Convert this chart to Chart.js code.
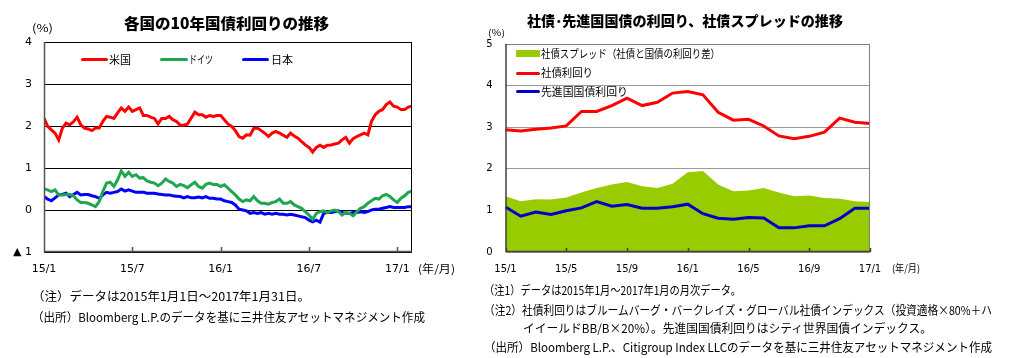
<!DOCTYPE html>
<html><head><meta charset="utf-8">
<script src="https://cdn.jsdelivr.net/npm/chart.js@4.4.0/dist/chart.umd.min.js"></script>
<style>
html,body{margin:0;padding:0;background:#fff;}
#wrap{position:relative;width:1023px;height:358px;overflow:hidden;font-family:"Noto Sans CJK JP","DejaVu Sans",sans-serif;color:#000;}
.t{position:absolute;white-space:nowrap;line-height:1;transform-origin:left center;}
.sw{position:absolute;}
canvas{position:absolute;left:0;top:0;}
</style></head><body>
<div id="wrap">
  <div style="position:absolute;left:0;top:0;width:460px;height:290px;"><canvas id="c1" width="460" height="290"></canvas></div>
  <div style="position:absolute;left:470px;top:0;width:553px;height:290px;"><canvas id="c2" width="553" height="290"></canvas></div>
</div>
<script>
// ---------- Left chart: 10-year government bond yields (step = 0.25 month from 2015/1) ----------
const leftStepMonths = 0.25;
const usYield = [2.19,1.99,1.91,1.83,1.67,1.95,2.07,2.03,2.10,2.21,
  2.03,1.95,1.93,1.89,1.95,1.95,2.11,2.23,2.21,2.18,
  2.31,2.43,2.35,2.45,2.35,2.39,2.43,2.25,2.25,2.21,
  2.18,2.05,2.18,2.18,2.23,2.15,2.11,2.02,2.02,2.05,
  2.19,2.33,2.27,2.27,2.21,2.25,2.23,2.25,2.25,2.15,
  2.05,1.99,1.89,1.75,1.71,1.79,1.78,1.94,1.95,1.89,
  1.83,1.75,1.83,1.87,1.83,1.78,1.73,1.83,1.76,1.71,
  1.63,1.55,1.49,1.38,1.49,1.54,1.49,1.54,1.55,1.57,
  1.59,1.67,1.73,1.59,1.70,1.75,1.79,1.83,1.79,2.11,
  2.27,2.35,2.39,2.51,2.57,2.47,2.45,2.39,2.39,2.45,
  2.47];
const deYield = [0.50,0.48,0.44,0.48,0.36,0.36,0.37,0.37,0.34,0.24,
  0.18,0.18,0.16,0.12,0.08,0.20,0.44,0.64,0.66,0.56,
  0.72,0.93,0.80,0.90,0.80,0.84,0.76,0.77,0.69,0.66,
  0.64,0.58,0.64,0.74,0.68,0.64,0.56,0.61,0.58,0.53,
  0.60,0.66,0.56,0.52,0.61,0.64,0.61,0.61,0.56,0.60,
  0.52,0.44,0.36,0.26,0.20,0.24,0.22,0.32,0.22,0.16,
  0.16,0.14,0.18,0.20,0.26,0.16,0.16,0.20,0.12,0.08,
  0.04,-0.04,-0.12,-0.22,-0.08,-0.04,-0.02,-0.06,-0.02,0.00,
  -0.04,-0.12,-0.06,-0.08,-0.14,-0.04,0.04,0.08,0.16,0.22,
  0.28,0.26,0.34,0.37,0.32,0.24,0.18,0.28,0.34,0.42,
  0.45];
const jpYield = [0.32,0.26,0.22,0.29,0.36,0.37,0.40,0.32,0.37,0.42,
  0.36,0.37,0.37,0.34,0.32,0.28,0.36,0.42,0.40,0.42,
  0.44,0.50,0.45,0.48,0.45,0.42,0.42,0.42,0.40,0.40,
  0.40,0.38,0.37,0.36,0.36,0.34,0.33,0.32,0.29,0.32,
  0.29,0.29,0.31,0.29,0.32,0.28,0.28,0.26,0.26,0.22,
  0.20,0.18,0.12,0.02,0.00,-0.02,-0.08,-0.06,-0.08,-0.06,
  -0.10,-0.08,-0.10,-0.08,-0.10,-0.10,-0.12,-0.10,-0.12,-0.14,
  -0.16,-0.18,-0.24,-0.28,-0.24,-0.29,-0.08,-0.06,-0.06,-0.04,
  -0.02,-0.06,-0.08,-0.08,-0.06,-0.06,-0.04,-0.06,-0.04,0.00,
  0.02,0.02,0.04,0.06,0.08,0.06,0.06,0.06,0.06,0.08,
  0.08];
const leftXTickValues = [0, 6, 12, 18, 24];
const leftXTickLabels = ['15/1', '15/7', '16/1', '16/7', '17/1'];
const leftYTickValues = [-1, 0, 1, 2, 3, 4];
const leftYTickLabels = ['▲ 1', '0', '1', '2', '3', '4'];

// ---------- Right chart: monthly corporate / government yields ----------
const months = ['15/1','15/2','15/3','15/4','15/5','15/6','15/7','15/8','15/9','15/10','15/11','15/12',
  '16/1','16/2','16/3','16/4','16/5','16/6','16/7','16/8','16/9','16/10','16/11','16/12','17/1'];
const corpSpread = [1.34,1.22,1.27,1.26,1.31,1.43,1.54,1.62,1.68,1.58,1.54,1.64,1.92,1.95,1.62,1.46,1.48,1.54,1.43,1.34,1.36,1.30,1.28,1.22,1.20];
const corpYield  = [2.94,2.91,2.95,2.98,3.03,3.38,3.38,3.52,3.70,3.52,3.60,3.82,3.86,3.78,3.36,3.17,3.19,3.03,2.79,2.72,2.78,2.88,3.22,3.12,3.09];
const govYield   = [1.08,0.86,0.96,0.90,0.99,1.06,1.21,1.10,1.14,1.05,1.05,1.09,1.15,0.92,0.81,0.79,0.83,0.82,0.58,0.58,0.63,0.63,0.80,1.05,1.05];

const toXY = arr => arr.map((v, i) => ({x: i * leftStepMonths, y: v}));

const framePlugin = {
  id: 'frame',
  afterDraw(chart, args, o) {
    const {ctx, chartArea: a} = chart;
    const xs = chart.scales.x;
    ctx.save();
    ctx.lineWidth = o.width;
    ctx.strokeStyle = o.top;
    ctx.beginPath();
    ctx.moveTo(a.left, a.top + 0.5); ctx.lineTo(a.right, a.top + 0.5);
    ctx.moveTo(a.right - 0.5, a.top); ctx.lineTo(a.right - 0.5, a.bottom);
    ctx.stroke();
    ctx.strokeStyle = o.axis;
    ctx.lineWidth = o.axisWidth;
    ctx.beginPath();
    ctx.moveTo(a.left + 0.5, a.top); ctx.lineTo(a.left + 0.5, a.bottom);
    ctx.moveTo(a.left, a.bottom - 0.5); ctx.lineTo(a.right, a.bottom - 0.5);
    xs.ticks.forEach(t => {
      const px = Math.round(xs.getPixelForValue(t.value)) + 0.5;
      ctx.moveTo(px, a.bottom); ctx.lineTo(px, a.bottom - o.tickLen);
    });
    ctx.stroke();
    ctx.restore();
  }
};

const tickFont = size => ({family: '"DejaVu Sans","Noto Sans CJK JP",sans-serif', size});

new Chart(document.getElementById('c1'), {
  type: 'line',
  data: {
    datasets: [
      {label: '米国', data: toXY(usYield), borderColor: '#ff0000'},
      {label: 'ドイツ', data: toXY(deYield), borderColor: '#1fa64f'},
      {label: '日本', data: toXY(jpYield), borderColor: '#0000ff'}
    ].map(d => Object.assign(d, {borderWidth: 3, pointRadius: 0, tension: 0, fill: false}))
  },
  options: {
    responsive: false, animation: false, events: [],
    layout: {padding: {left: 0, top: 42, right: 48, bottom: 0}},
    plugins: {legend: {display: false}, tooltip: {enabled: false},
      frame: {top: '#000', axis: '#555', width: 1, axisWidth: 1.5, tickLen: 5}},
    scales: {
      x: {
        type: 'linear', min: 0, max: 25,
        afterBuildTicks: s => { s.ticks = leftXTickValues.map(v => ({value: v})); },
        afterFit: s => { s.height = 38; s.paddingLeft = 0; s.paddingRight = 0; },
        grid: {display: false, drawTicks: false},
        border: {display: false},
        ticks: {padding: 11, maxRotation: 0, autoSkip: false, color: '#000', font: tickFont(11),
          callback: v => leftXTickLabels[leftXTickValues.indexOf(v)]}
      },
      y: {
        min: -1, max: 4,
        afterBuildTicks: s => { s.ticks = leftYTickValues.map(v => ({value: v})); },
        afterFit: s => { s.width = 44; s.paddingTop = 0; s.paddingBottom = 0; },
        grid: {color: '#000', lineWidth: 1, drawTicks: false},
        border: {display: false},
        ticks: {padding: 12, color: '#000', font: tickFont(11),
          callback: v => leftYTickLabels[leftYTickValues.indexOf(v)]}
      }
    }
  },
  plugins: [framePlugin]
});

new Chart(document.getElementById('c2'), {
  type: 'line',
  data: {
    labels: months,
    datasets: [
      {label: '社債利回り', data: corpYield, borderColor: '#ff0000', borderWidth: 3, pointRadius: 0, fill: false, order: 1},
      {label: '先進国国債利回り', data: govYield, borderColor: '#0000c8', borderWidth: 3, pointRadius: 0, fill: false, order: 2},
      {label: '社債スプレッド（社債と国債の利回り差）', data: corpSpread, borderWidth: 0, borderColor: 'rgba(0,0,0,0)',
        backgroundColor: '#99cc00', pointRadius: 0, fill: 'origin', order: 3}
    ]
  },
  options: {
    responsive: false, animation: false, events: [],
    layout: {padding: {left: 0, top: 44, right: 153, bottom: 0}},
    plugins: {legend: {display: false}, tooltip: {enabled: false},
      frame: {top: '#808080', axis: '#404040', width: 1, axisWidth: 1.5, tickLen: 4}},
    scales: {
      x: {
        type: 'category',
        afterBuildTicks: s => { s.ticks = s.ticks.filter(t => t.value % 4 === 0); },
        afterFit: s => { s.height = 38; s.paddingLeft = 0; s.paddingRight = 0; },
        grid: {display: false, drawTicks: false},
        border: {display: false},
        ticks: {padding: 11, maxRotation: 0, autoSkip: false, color: '#000', font: tickFont(10)}
      },
      y: {
        min: 0, max: 5,
        ticks: {stepSize: 1, padding: 13, color: '#000', font: tickFont(10)},
        afterFit: s => { s.width = 35.5; s.paddingTop = 0; s.paddingBottom = 0; },
        grid: {color: '#9a9a9a', lineWidth: 1, drawTicks: false},
        border: {display: false}
      }
    }
  },
  plugins: [framePlugin]
});

// ---------- Texts ----------
const wrap = document.getElementById('wrap');
const texts = [
  {s: '各国の10年国債利回りの推移', x: 226, y: 22, f: 15, b: 1, w: 205, c: 1},
  {s: '社債･先進国国債の利回り、社債スプレッドの推移', x: 685, y: 20, f: 14, b: 1, w: 316, c: 1},
  {s: '(%)', x: 32, y: 27, f: 11, w: 21},
  {s: '(%)', x: 488, y: 32, f: 9, w: 17},
  {s: '(年/月)', x: 418, y: 268.5, f: 11, w: 37},
  {s: '(年/月)', x: 892, y: 268, f: 10, w: 28},
  {s: '米国', x: 109, y: 59, f: 11, w: 22},
  {s: 'ドイツ', x: 189, y: 59, f: 11, w: 24},
  {s: '日本', x: 271, y: 59, f: 11, w: 22},
  {s: '社債スプレッド（社債と国債の利回り差）', x: 541, y: 53, f: 11, w: 179},
  {s: '社債利回り', x: 541, y: 72.5, f: 11, w: 52},
  {s: '先進国国債利回り', x: 541, y: 91.5, f: 11, w: 87},
  {s: '（注）データは2015年1月1日～2017年1月31日。', x: 32, y: 295.5, f: 12, w: 278},
  {s: '（出所）Bloomberg L.P.のデータを基に三井住友アセットマネジメント作成', x: 32, y: 316.5, f: 12, w: 393},
  {s: '（注1）データは2015年1月～2017年1月の月次データ。', x: 484, y: 290, f: 12, w: 257},
  {s: '（注2）社債利回りはブルームバーグ・バークレイズ・グローバル社債インデックス（投資適格×80%＋ハ', x: 484, y: 310, f: 12, w: 508},
  {s: 'イイールドBB/B×20%）。先進国国債利回りはシティ世界国債インデックス。', x: 523, y: 328, f: 12, w: 409},
  {s: '（出所）Bloomberg L.P.、Citigroup Index LLCのデータを基に三井住友アセットマネジメント作成', x: 484, y: 346.5, f: 12, w: 508}
];
texts.forEach(t => {
  const d = document.createElement('div');
  d.className = 't';
  d.textContent = t.s;
  d.style.fontSize = t.f + 'px';
  d.style.fontWeight = t.b ? '900' : '400';
  d.style.top = (t.y - t.f / 2) + 'px';
  wrap.appendChild(d);
  const nat = d.getBoundingClientRect().width;
  const k = t.w / nat;
  const left = t.c ? t.x - t.w / 2 : t.x;
  d.style.left = left + 'px';
  d.style.transform = 'scaleX(' + k.toFixed(4) + ')';
});

// legend swatches
const swatches = [
  {x: 81, y: 57.5, w: 27, h: 3.5, c: '#ff0000'},
  {x: 160, y: 57.5, w: 28, h: 3.5, c: '#1fa64f'},
  {x: 242, y: 57.5, w: 27, h: 3.5, c: '#0000ff'},
  {x: 516, y: 50, w: 24, h: 6.5, c: '#99cc00'},
  {x: 516, y: 71.5, w: 24, h: 3, c: '#ff0000'},
  {x: 516, y: 90, w: 24, h: 3, c: '#0000c8'}
];
swatches.forEach(s => {
  const d = document.createElement('div');
  d.className = 'sw';
  Object.assign(d.style, {left: s.x + 'px', top: s.y + 'px', width: s.w + 'px', height: s.h + 'px', background: s.c, borderRadius: s.h < 4 ? '2px' : '0'});
  wrap.appendChild(d);
});
</script>
</body></html>
